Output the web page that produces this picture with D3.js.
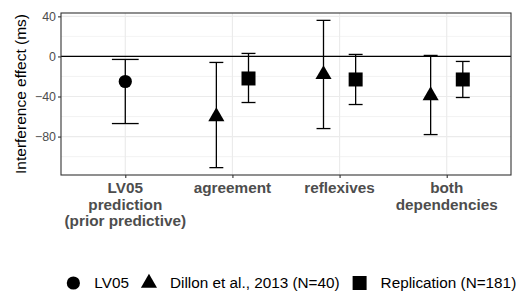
<!DOCTYPE html>
<html>
<head>
<meta charset="utf-8">
<script src="https://cdn.jsdelivr.net/npm/d3@7"></script>
<style>
  body { margin: 0; background: #fff; }
  svg { display: block; font-family: "Liberation Sans", Arial, sans-serif; }
</style>
</head>
<body>
<div id="chart"></div>
<script>
// categories on the x axis (line breaks as in the original)
const categories = ["LV05\nprediction\n(prior predictive)", "agreement", "reflexives", "both\ndependencies"];
const seriesNames = ["LV05", "Dillon et al., 2013 (N=40)", "Replication (N=181)"];

// LV05 prediction (only first category)
const lv05Cat = [0];
const lv05Mean = [-25];
const lv05Lower = [-67];
const lv05Upper = [-3];

// Dillon et al. 2013
const dillonCat = [1, 2, 3];
const dillonMean = [-60, -18, -39];
const dillonLower = [-111, -72, -78];
const dillonUpper = [-6, 36, 1];

// Replication
const replCat = [1, 2, 3];
const replMean = [-22, -23, -23];
const replLower = [-46, -48, -41];
const replUpper = [3, 2, -5];

const yTicks = [40, 0, -40, -80];
const yMinor = [20, -20, -60, -100];

const width = 522, height = 294;
const margin = { top: 13, right: 11, bottom: 119, left: 61 };

const svg = d3.select("#chart").append("svg")
    .attr("width", width)
    .attr("height", height);

const pw = width - margin.left - margin.right;
const ph = height - margin.top - margin.bottom;

const g = svg.append("g").attr("transform", `translate(${margin.left},${margin.top})`);

// x: discrete scale, 0.6 expansion on each side like ggplot
const x = d3.scaleLinear()
    .domain([-0.6, categories.length - 1 + 0.6])
    .range([0, pw]);

const lo = d3.min([...lv05Lower, ...dillonLower, ...replLower]);
const hi = d3.max([...lv05Upper, ...dillonUpper, ...replUpper]);
const pad = (hi - lo) * 0.05;
const y = d3.scaleLinear()
    .domain([lo - pad, hi + pad])
    .range([ph, 0]);

// grid
g.selectAll("line.minor").data(yMinor).join("line")
    .attr("x1", 0).attr("x2", pw)
    .attr("y1", d => y(d)).attr("y2", d => y(d))
    .attr("stroke", "#ebebeb").attr("stroke-width", 0.6);
g.selectAll("line.majory").data(yTicks).join("line")
    .attr("x1", 0).attr("x2", pw)
    .attr("y1", d => y(d)).attr("y2", d => y(d))
    .attr("stroke", "#ebebeb").attr("stroke-width", 1.2);
g.selectAll("line.majorx").data(categories).join("line")
    .attr("x1", (d, i) => x(i)).attr("x2", (d, i) => x(i))
    .attr("y1", 0).attr("y2", ph)
    .attr("stroke", "#ebebeb").attr("stroke-width", 1.2);

// zero line
g.append("line")
    .attr("x1", 0).attr("x2", pw)
    .attr("y1", y(0)).attr("y2", y(0))
    .attr("stroke", "#000").attr("stroke-width", 1.2);

// build rows
const dodge = 0.15;
function rows(cat, mean, lower, upper, series, offset, cap) {
    return cat.map((c, i) => ({ c, mean: mean[i], lower: lower[i], upper: upper[i], series, offset, cap }));
}
const data = [
    ...rows(lv05Cat, lv05Mean, lv05Lower, lv05Upper, 0, 0, 0.125),
    ...rows(dillonCat, dillonMean, dillonLower, dillonUpper, 1, -dodge, 0.065),
    ...rows(replCat, replMean, replLower, replUpper, 2, dodge, 0.065)
];

const eb = g.selectAll("g.eb").data(data).join("g").attr("class", "eb");
eb.append("line")
    .attr("x1", d => x(d.c + d.offset)).attr("x2", d => x(d.c + d.offset))
    .attr("y1", d => y(d.lower)).attr("y2", d => y(d.upper));
eb.append("line")
    .attr("x1", d => x(d.c + d.offset - d.cap)).attr("x2", d => x(d.c + d.offset + d.cap))
    .attr("y1", d => y(d.lower)).attr("y2", d => y(d.lower));
eb.append("line")
    .attr("x1", d => x(d.c + d.offset - d.cap)).attr("x2", d => x(d.c + d.offset + d.cap))
    .attr("y1", d => y(d.upper)).attr("y2", d => y(d.upper));
eb.selectAll("line").attr("stroke", "#000").attr("stroke-width", 1.3);

// point shapes (R pch 16, 17, 15)
function shapePath(s) {
    if (s === 0) {
        return d3.symbol(d3.symbolCircle, Math.PI * 6.6 * 6.6)();
    } else if (s === 1) {
        const r = 9.3, h = r * Math.sqrt(3) / 2;
        return `M0,${-r}L${h},${r / 2}L${-h},${r / 2}Z`;
    }
    return "M-7,-7H7V7H-7Z";
}
g.selectAll("path.pt").data(data).join("path")
    .attr("transform", d => `translate(${x(d.c + d.offset)},${y(d.mean)})`)
    .attr("d", d => shapePath(d.series))
    .attr("fill", "#000");

// panel border
g.append("rect")
    .attr("width", pw).attr("height", ph)
    .attr("fill", "none").attr("stroke", "#333").attr("stroke-width", 1.1);

// y axis
const yAxis = g.append("g")
    .call(d3.axisLeft(y).tickValues(yTicks).tickSize(3).tickPadding(2).tickFormat(d => d < 0 ? "\u2212" + Math.abs(d) : d));
yAxis.select(".domain").remove();
yAxis.selectAll(".tick line").attr("stroke", "#333").attr("stroke-width", 1.1);
yAxis.selectAll(".tick text").attr("fill", "#4d4d4d").style("font-size", "12.4px").attr("font-family", null);

// x axis
const xAxis = g.append("g").attr("transform", `translate(0,${ph})`)
    .call(d3.axisBottom(x).tickValues(d3.range(categories.length)).tickSize(3).tickFormat(""));
xAxis.select(".domain").remove();
xAxis.selectAll(".tick line").attr("stroke", "#333").attr("stroke-width", 1.1);

const xl = g.selectAll("text.xl").data(categories).join("text")
    .attr("x", (d, i) => x(i))
    .attr("y", ph + 18)
    .attr("text-anchor", "middle")
    .attr("fill", "#4d4d4d")
    .style("font-size", "15.3px")
    .style("font-weight", "bold");
xl.selectAll("tspan").data(d => d.split("\n")).join("tspan")
    .attr("x", function () { return this.parentNode.getAttribute("x"); })
    .attr("dy", (d, i) => i === 0 ? 0 : 16.5)
    .text(d => d);

// y title
svg.append("text")
    .attr("transform", `translate(26,${margin.top + ph / 2}) rotate(-90)`)
    .attr("text-anchor", "middle")
    .attr("fill", "#000")
    .style("font-size", "15.5px")
    .text("Interference effect (ms)");

// legend
const legY = 283;
const leg = svg.append("g");
let cx = 0;
seriesNames.forEach((name, i) => {
    const it = leg.append("g");
    it.append("path").attr("d", shapePath(i)).attr("fill", "#000")
        .attr("transform", `translate(${cx},0)`);
    const t = it.append("text").attr("x", cx + 21).attr("y", 0).attr("dy", "0.35em")
        .style("font-size", "15.3px").attr("fill", "#000").text(name);
    cx += 21 + t.node().getComputedTextLength() + 20;
});
const bb = leg.node().getBBox();
leg.attr("transform", `translate(${291.5 - (bb.x + bb.width / 2)},${legY})`);
</script>
</body>
</html>
